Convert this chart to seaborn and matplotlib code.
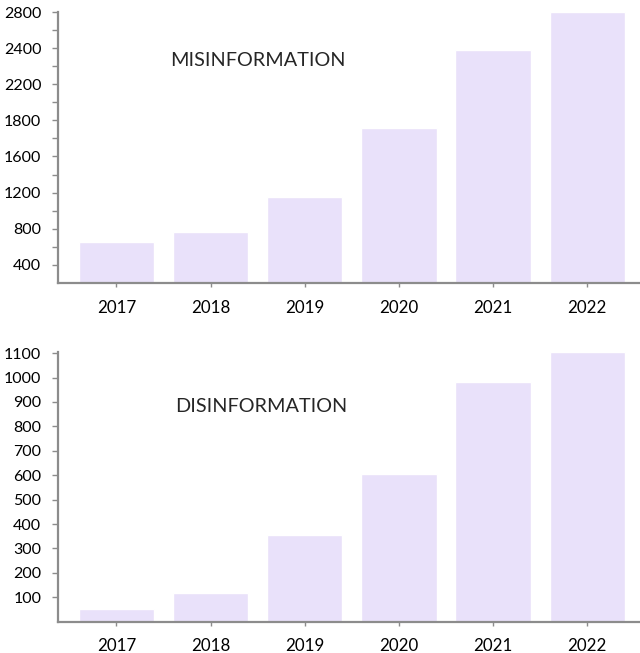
import numpy as np
import matplotlib
matplotlib.use("Agg")
import matplotlib.pyplot as plt
import seaborn as sns
from matplotlib.ticker import FixedLocator, FixedFormatter, NullFormatter

# data
years = ["2017", "2018", "2019", "2020", "2021", "2022"]
misinfo = [650, 760, 1150, 1760, 2390, 2800]
disinfo = [52, 118, 356, 605, 980, 1105]

# the top chart's axis labels are evenly spaced but not evenly valued
mis_ticks = [400, 800, 1200, 1600, 1800, 2200, 2400, 2800]
dis_ticks = [100, 200, 300, 400, 500, 600, 700, 800, 900, 1000, 1100]

bar_color = "#e9e1fa"
axis_color = "#8c8c8c"

sns.set_style("white")
plt.rcParams["font.family"] = ["Lato", "DejaVu Sans"]

fig = plt.figure(figsize=(6.4, 6.53), dpi=100)
ax1 = fig.add_axes([0.0906, 0.5662, 0.9094, 0.4154])
ax2 = fig.add_axes([0.0906, 0.048, 0.9094, 0.4134])

# piecewise scale: each labelled tick gets one equal step
knot_vals = np.array([0] + mis_ticks, dtype=float)
knot_pos = np.arange(len(knot_vals), dtype=float)


def fwd(v):
    return np.interp(v, knot_vals, knot_pos)


def inv(p):
    return np.interp(p, knot_pos, knot_vals)


sns.barplot(x=years, y=misinfo, color=bar_color, saturation=1, width=0.8, ax=ax1)
ax1.set_yscale("function", functions=(fwd, inv))
ax1.set_ylim(inv(0.49), inv(8.03))
ax1.yaxis.set_major_locator(FixedLocator(mis_ticks))
ax1.yaxis.set_major_formatter(FixedFormatter([str(t) for t in mis_ticks]))
ax1.yaxis.set_minor_locator(FixedLocator(inv(np.arange(1.5, 8, 1.0))))
ax1.yaxis.set_minor_formatter(NullFormatter())

sns.barplot(x=years, y=disinfo, color=bar_color, saturation=1, width=0.8, ax=ax2)
ax2.set_ylim(0, 1106)
ax2.set_yticks(dis_ticks)
ax2.set_yticklabels([str(t) for t in dis_ticks])

for ax in (ax1, ax2):
    ax.set_xlim(-0.62, 5.56)
    sns.despine(ax=ax)
    for side in ("left", "bottom"):
        ax.spines[side].set_color(axis_color)
        ax.spines[side].set_linewidth(1.6)
    ax.tick_params(axis="y", which="both", left=True, length=4, width=1,
                   color=axis_color, labelsize=11.5, pad=8, labelcolor="black")
    ax.tick_params(axis="x", bottom=True, length=3, width=1, color=axis_color,
                   labelsize=12.2, pad=9, labelcolor="black")
    ax.set_xlabel("")
    ax.set_ylabel("")

fig.text(170 / 640, 1 - 61 / 653, "MISINFORMATION", fontsize=14.3, va="center", ha="left")
fig.text(175 / 640, 1 - 407 / 653, "DISINFORMATION", fontsize=14.3, va="center", ha="left")

fig.savefig("out.png", dpi=100)
